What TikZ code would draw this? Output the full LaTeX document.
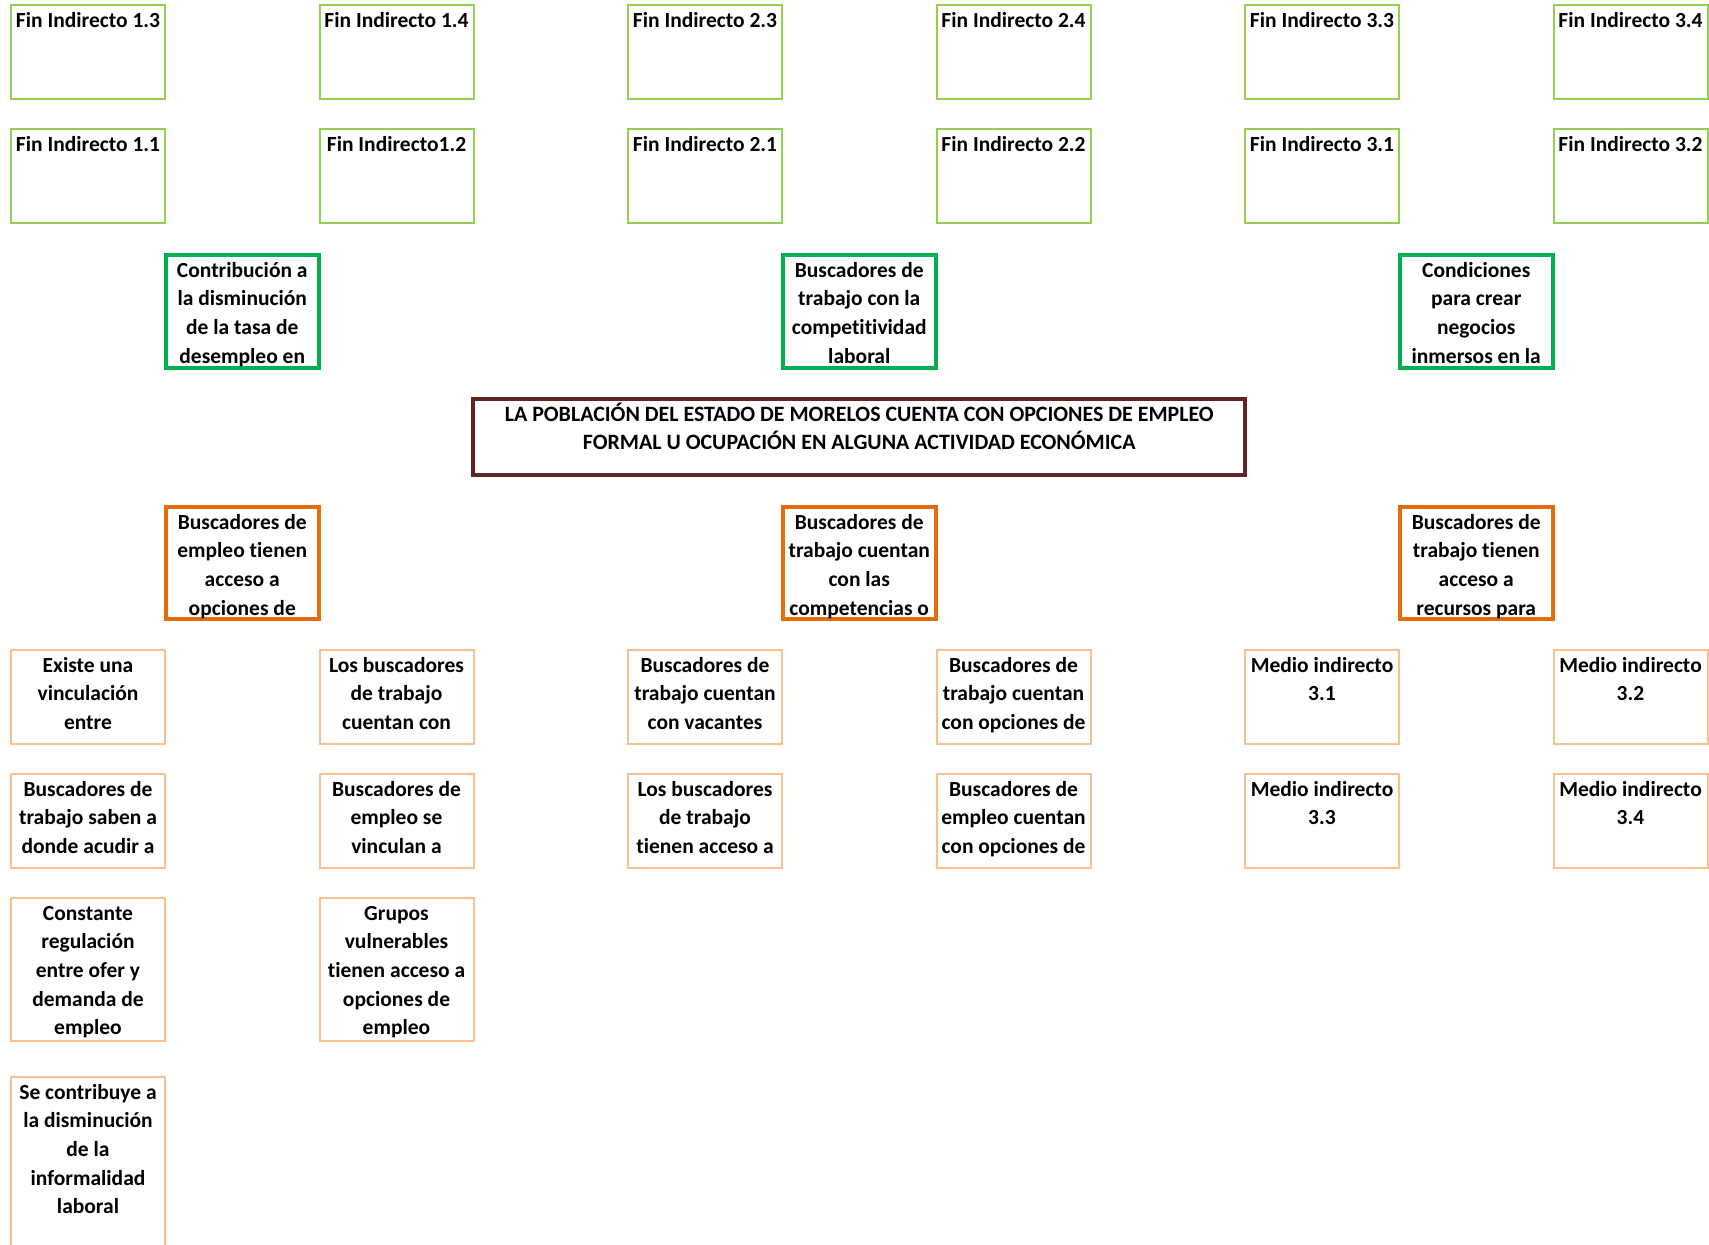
\documentclass[tikz,border=0pt]{standalone}
\usepackage{fontspec}
\setmainfont{Carlito}[Ligatures=NoCommon]
\usetikzlibrary{positioning, calc}
\definecolor{verdeclaro}{HTML}{92D050}
\definecolor{verde}{HTML}{00B050}
\definecolor{naranja}{HTML}{E46C0A}
\definecolor{naranjaclaro}{HTML}{FAC090}
\definecolor{guinda}{HTML}{632523}
\newcommand{\letra}{\bfseries\fontsize{21.5}{28.7}\selectfont}
\newcommand{\letragrande}{\bfseries\fontsize{21.9}{28.2}\selectfont}
\tikzset{
ancho/.store in=\anchocaja, % width of the text block
alto/.store in=\altocaja, % height of the text block
caja/.style={draw, inner sep=0pt, font=\letra,
 execute at begin node={\begin{minipage}[t][\altocaja][t]{\anchocaja}\centering\rule{0pt}{22pt}},
 execute at end node={\end{minipage}}}, % text hangs from the top edge
fin/.style={caja, draw=verdeclaro, line width=2pt, ancho=154pt, alto=94pt}, % fines indirectos
finprop/.style={caja, draw=verde, line width=4pt, ancho=153pt, alto=113pt}, % fines directos
proposito/.style={caja, draw=guinda, line width=4pt, ancho=772pt, alto=76pt, font=\letragrande}, % problema central
mediopral/.style={caja, draw=naranja, line width=4pt, ancho=153pt, alto=112pt}, % medios directos
medio/.style={caja, draw=naranjaclaro, line width=2pt, ancho=154pt, alto=94pt}, % medios indirectos
}

\begin{document}
\begin{tikzpicture}[x=1pt, y=-1pt, node distance=28pt and 152.5pt]
\useasboundingbox (0,0) rectangle (1709,1245);
% fines indirectos
\node[fin] (f13) at (88,52) {Fin Indirecto 1.3};
\node[fin, right=of f13] (f14) {Fin Indirecto 1.4};
\node[fin, right=of f14] (f23) {Fin Indirecto 2.3};
\node[fin, right=of f23] (f24) {Fin Indirecto 2.4};
\node[fin, right=of f24] (f33) {Fin Indirecto 3.3};
\node[fin, right=of f33] (f34) {Fin Indirecto 3.4};
\node[fin, below=of f13] (f11) {Fin Indirecto 1.1};
\node[fin, below=of f14] (f12) {Fin Indirecto1.2};
\node[fin, below=of f23] (f21) {Fin Indirecto 2.1};
\node[fin, below=of f24] (f22) {Fin Indirecto 2.2};
\node[fin, below=of f33] (f31) {Fin Indirecto 3.1};
\node[fin, below=of f34] (f32) {Fin Indirecto 3.2};
% fines directos
\coordinate (c1) at ($(f11.south)!.5!(f12.south)$);
\coordinate (c2) at ($(f21.south)!.5!(f22.south)$);
\coordinate (c3) at ($(f31.south)!.5!(f32.south)$);
\node[finprop, below=29pt of c1] (g1) {Contribución a\\la disminución\\de la tasa de\\desempleo en};
\node[finprop, below=29pt of c2] (g2) {Buscadores de\\trabajo con la\\competitividad\\laboral};
\node[finprop, below=29pt of c3] (g3) {Condiciones\\para crear\\negocios\\inmersos en la};
% problema central
\node[proposito, below=27pt of g2] (p) {LA POBLACIÓN DEL ESTADO DE MORELOS CUENTA CON OPCIONES DE EMPLEO\\FORMAL U OCUPACIÓN EN ALGUNA ACTIVIDAD ECONÓMICA};
% medios directos
\node[mediopral, below=of p] (o2) {Buscadores de\\trabajo cuentan\\con las\\competencias o};
\node[mediopral] (o1) at (g1 |- o2) {Buscadores de\\empleo tienen\\acceso a\\opciones de};
\node[mediopral] (o3) at (g3 |- o2) {Buscadores de\\trabajo tienen\\acceso a\\recursos para};
% medios indirectos
\node[medio] (m11) at (88,697) {Existe una\\vinculación\\entre};
\node[medio, right=of m11] (m12) {Los buscadores\\de trabajo\\cuentan con};
\node[medio, right=of m12] (m13) {Buscadores de\\trabajo cuentan\\con vacantes};
\node[medio, right=of m13] (m14) {Buscadores de\\trabajo cuentan\\con opciones de};
\node[medio, right=of m14] (m15) {Medio indirecto\\3.1};
\node[medio, right=of m15] (m16) {Medio indirecto\\3.2};
\node[medio, below=of m11] (m21) {Buscadores de\\trabajo saben a\\donde acudir a};
\node[medio, below=of m12] (m22) {Buscadores de\\empleo se\\vinculan a};
\node[medio, below=of m13] (m23) {Los buscadores\\de trabajo\\tienen acceso a};
\node[medio, below=of m14] (m24) {Buscadores de\\empleo cuentan\\con opciones de};
\node[medio, below=of m15] (m25) {Medio indirecto\\3.3};
\node[medio, below=of m16] (m26) {Medio indirecto\\3.4};
\node[medio, alto=143pt, below=of m21] (m31) {Constante\\regulación\\entre ofer y\\demanda de\\empleo};
\node[medio, alto=143pt, below=of m22] (m32) {Grupos\\vulnerables\\tienen acceso a\\opciones de\\empleo};
\node[medio, alto=171pt, below=34pt of m31] (m41) {Se contribuye a\\la disminución\\de la\\informalidad\\laboral};
\end{tikzpicture}
\end{document}
